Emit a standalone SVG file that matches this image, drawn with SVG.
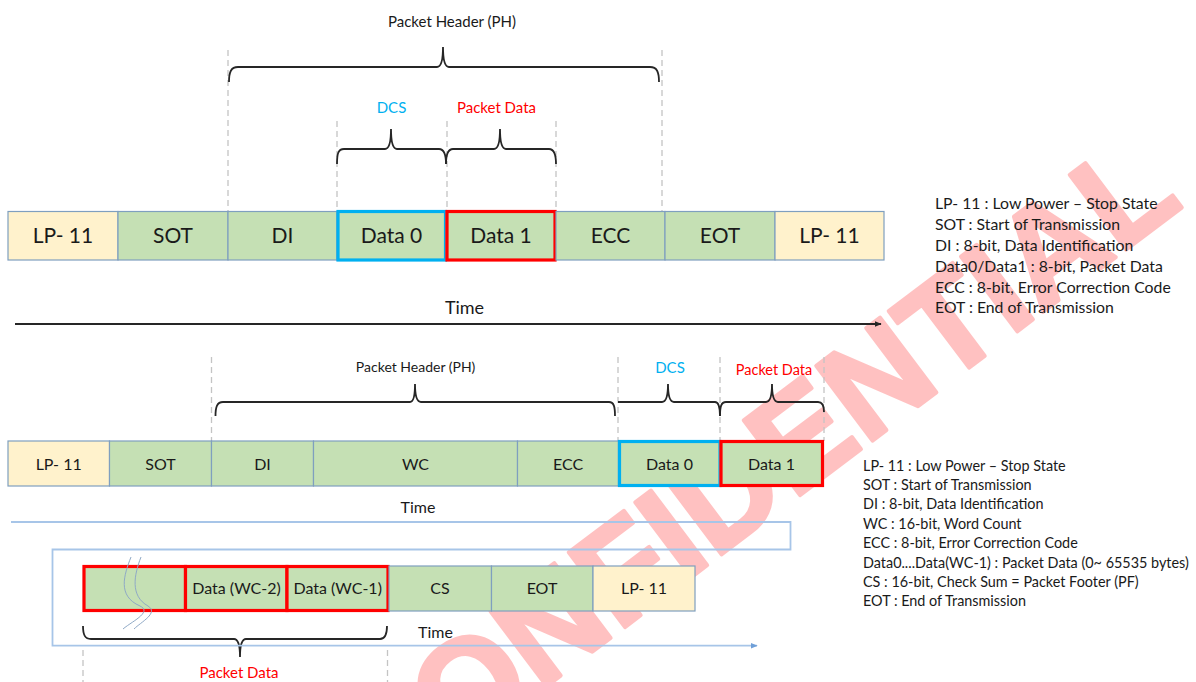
<svg xmlns="http://www.w3.org/2000/svg" width="1196" height="682" viewBox="0 0 1196 682">
<defs>
<style>
text{font-family:Lato,"Liberation Sans",sans-serif;fill:#1a1a1a}
.lbl{text-anchor:middle}
.c1{font-size:21px}
.c2{font-size:16px}
.g{fill:#c5e0b4;stroke:#7f9fbf;stroke-width:1.2}
.y{fill:#fff2cc;stroke:#7f9fbf;stroke-width:1.2}
.hb{fill:none;stroke:#00b0f0;stroke-width:3.2}
.hr{fill:none;stroke:#ff0000;stroke-width:3.2}
.dash{stroke:#c4c4c4;stroke-width:1.3;stroke-dasharray:6 4;fill:none}
.brace{fill:none;stroke:#262626;stroke-width:1.8}
.cyan{fill:#00b0f0}
.red{fill:#ff0000}
.leg{font-size:15.8px}
.leg2{font-size:14.4px}
</style>
<marker id="ah" viewBox="0 0 10 10" refX="9" refY="5" markerWidth="7" markerHeight="7" markerUnits="userSpaceOnUse" orient="auto"><path d="M0,1 L10,5 L0,9 z" fill="#262626"/></marker>
<marker id="ahb" viewBox="0 0 10 10" refX="9" refY="5" markerWidth="7" markerHeight="7" markerUnits="userSpaceOnUse" orient="auto"><path d="M0,1 L10,5 L0,9 z" fill="#6f9fd8"/></marker>
</defs>
<rect width="1196" height="682" fill="#ffffff"/>

<g id="watermark" opacity="0.24">
<text transform="translate(1185,205) rotate(-37)" text-anchor="end" font-size="136" font-weight="bold" style="font-family:'Liberation Sans',Arial,sans-serif;fill:#ff0000;stroke:#ff0000;stroke-width:4;stroke-linejoin:round">CONFIDENTIAL</text>
</g>

<!-- connectors: dashed guides, braces, time arrows -->
<g id="connectors">
<path class="dash" d="M228,50V211 M662,50V211 M337,121V211 M447,121V211 M556,121V211"/>
<path class="dash" d="M211.5,357V441 M618,357V441 M720,357V441 M824,357V441"/>
<path class="dash" d="M83,650V682 M387.5,650V682"/>
<path class="brace" d="M229,82 C229,72 231,67 238,67 L437,67 C441,67 443,61 443,47 C443,61 445,67 449,67 L650,67 C657,67 659,72 659,82"/>
<path class="brace" d="M337,164 C337,154 338,149 344,149 L385,149 C389,149 391,144 391,129 C391,144 393,149 397,149 L439,149 C444,149 446,154 446,164"/>
<path class="brace" d="M446,164 C446,154 448,149 453,149 L494,149 C498,149 500,144 500,129 C500,144 502,149 506,149 L549,149 C554,149 556,154 556,164"/>
<path class="brace" d="M215.5,416 C215.5,407 217,402 223,402 L410,402 C413,402 415,397 415,384 C415,397 417,402 421,402 L609,402 C614,402 615,407 615,416"/>
<path class="brace" d="M618,402 L662,402 C666,402 668,397 668,384 C668,397 670,402 674,402 L715,402 C719,402 720,407 720,416"/>
<path class="brace" d="M720,416 C720,407 721,402 726,402 L766,402 C770,402 772,397 772,384 C772,397 774,402 778,402 L818,402 C822,402 824,406 824,412"/>
<path class="brace" d="M83,626 C83,635 85,639 91,639 L234,639 C238,639 240,645 240,657 C240,645 242,639 246,639 L380,639 C385,639 387,635 387,626"/>
<path d="M15,324 H881" stroke="#262626" stroke-width="2.2" fill="none" marker-end="url(#ah)"/>
<path d="M11,522 H790.5 V549.5 H52.5 V645.7 H757" stroke="#a7c5e8" stroke-width="1.8" fill="none" marker-end="url(#ahb)"/>
</g>

<!-- top packet -->
<g id="top-packet">
<text class="lbl" x="452" y="26.5" font-size="15">Packet Header (PH)</text>
<text class="lbl cyan" x="391.5" y="113" font-size="15">DCS</text>
<text class="lbl red" x="496.5" y="113" font-size="15">Packet Data</text>
<g id="t-lp11a"><rect class="y" x="8" y="211.5" width="110" height="48.5"/><text class="lbl c1" x="63" y="243">LP- 11</text></g>
<g id="t-sot"><rect class="g" x="118" y="211.5" width="110" height="48.5"/><text class="lbl c1" x="173" y="243">SOT</text></g>
<g id="t-di"><rect class="g" x="228" y="211.5" width="109" height="48.5"/><text class="lbl c1" x="282.5" y="243">DI</text></g>
<g id="t-data0"><rect class="g" x="337" y="211.5" width="109" height="48.5"/><rect class="hb" x="338" y="211.5" width="107.5" height="48.5"/><text class="lbl c1" x="391.5" y="243">Data 0</text></g>
<g id="t-data1"><rect class="g" x="446" y="211.5" width="110" height="48.5"/><rect class="hr" x="447" y="211.5" width="108" height="48.5"/><text class="lbl c1" x="501" y="243">Data 1</text></g>
<g id="t-ecc"><rect class="g" x="556" y="211.5" width="109" height="48.5"/><text class="lbl c1" x="610.5" y="243">ECC</text></g>
<g id="t-eot"><rect class="g" x="665" y="211.5" width="110" height="48.5"/><text class="lbl c1" x="720" y="243">EOT</text></g>
<g id="t-lp11b"><rect class="y" x="775" y="211.5" width="109" height="48.5"/><text class="lbl c1" x="829.5" y="243">LP- 11</text></g>
<text class="lbl" x="464.5" y="314" font-size="18">Time</text>
</g>

<g id="top-legend">
<text class="leg" x="935" y="209">LP- 11 : Low Power – Stop State</text>
<text class="leg" x="935" y="230">SOT : Start of Transmission</text>
<text class="leg" x="935" y="251">DI : 8-bit, Data Identification</text>
<text class="leg" x="935" y="272">Data0/Data1 : 8-bit, Packet Data</text>
<text class="leg" x="935" y="293">ECC : 8-bit, Error Correction Code</text>
<text class="leg" x="935" y="313">EOT : End of Transmission</text>
</g>

<!-- bottom packet -->
<g id="bottom-packet">
<text class="lbl" x="415.6" y="371.7" font-size="14">Packet Header (PH)</text>
<text class="lbl cyan" x="670" y="373.3" font-size="15">DCS</text>
<text class="lbl red" x="774" y="375" font-size="14.5">Packet Data</text>
<g id="b-lp11"><rect class="y" x="8" y="441" width="101.5" height="45"/><text class="lbl c2" x="58.7" y="469.5">LP- 11</text></g>
<g id="b-sot"><rect class="g" x="109.5" y="441" width="102" height="45"/><text class="lbl c2" x="160.5" y="469.5">SOT</text></g>
<g id="b-di"><rect class="g" x="211.5" y="441" width="102" height="45"/><text class="lbl c2" x="262.5" y="469.5">DI</text></g>
<g id="b-wc"><rect class="g" x="313.5" y="441" width="204" height="45"/><text class="lbl c2" x="415.5" y="469.5">WC</text></g>
<g id="b-ecc"><rect class="g" x="517.5" y="441" width="101" height="45"/><text class="lbl c2" x="568" y="469.5">ECC</text></g>
<g id="b-data0"><rect class="g" x="618.5" y="441" width="101.5" height="45"/><rect class="hb" x="619.5" y="441.5" width="100.5" height="44"/><text class="lbl c2" x="669.5" y="469.5">Data 0</text></g>
<g id="b-data1"><rect class="g" x="720" y="441" width="103" height="45"/><rect class="hr" x="721" y="441.5" width="101.5" height="44"/><text class="lbl c2" x="771.5" y="469.5">Data 1</text></g>
<text class="lbl" x="418" y="512.7" font-size="16">Time</text>

<g id="b-cont"><rect class="g" x="83.5" y="566" width="102" height="45"/><rect class="hr" x="84" y="566.5" width="101.5" height="44"/>
<path d="M131,557 C124,575 117,596 140,606 C153,612 131,622 123,629" fill="none" stroke="#8fa9c6" stroke-width="1"/>
<path d="M141,557 C134,575 130,596 148,606 C159,613 141,622 134,629" fill="none" stroke="#8fa9c6" stroke-width="1"/></g>
<g id="b-wc2"><rect class="g" x="185.5" y="566" width="101.5" height="45"/><rect class="hr" x="185.5" y="566.5" width="101.5" height="44"/><text class="lbl c2" x="236.5" y="594.3">Data (WC-2)</text></g>
<g id="b-wc1"><rect class="g" x="287" y="566" width="101.5" height="45"/><rect class="hr" x="287" y="566.5" width="101" height="44"/><text class="lbl c2" x="337.7" y="594.3">Data (WC-1)</text></g>
<g id="b-cs"><rect class="g" x="389" y="566" width="102.5" height="45"/><text class="lbl c2" x="440" y="594.3">CS</text></g>
<g id="b-eot"><rect class="g" x="491.5" y="566" width="101.5" height="45"/><text class="lbl c2" x="542" y="594.3">EOT</text></g>
<g id="b-lp11b"><rect class="y" x="593" y="566" width="102" height="45"/><text class="lbl c2" x="644" y="594.3">LP- 11</text></g>
<text class="lbl" x="435.5" y="637.7" font-size="16">Time</text>
<text class="lbl red" x="239" y="678" font-size="15">Packet Data</text>
</g>

<g id="bottom-legend">
<text class="leg2" x="863" y="470.7">LP- 11 : Low Power – Stop State</text>
<text class="leg2" x="863" y="490">SOT : Start of Transmission</text>
<text class="leg2" x="863" y="509.3">DI : 8-bit, Data Identification</text>
<text class="leg2" x="863" y="528.7">WC : 16-bit, Word Count</text>
<text class="leg2" x="863" y="548.3">ECC : 8-bit, Error Correction Code</text>
<text class="leg2" x="863" y="567.7">Data0....Data(WC-1) : Packet Data (0~ 65535 bytes)</text>
<text class="leg2" x="863" y="587">CS : 16-bit, Check Sum = Packet Footer (PF)</text>
<text class="leg2" x="863" y="606">EOT : End of Transmission</text>
</g>
</svg>
